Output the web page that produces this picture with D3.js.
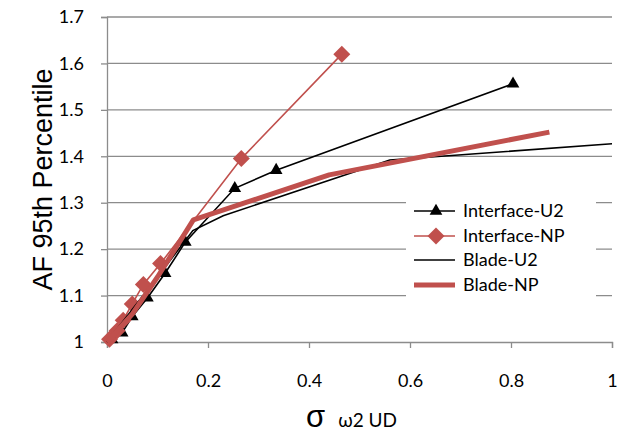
<!DOCTYPE html>
<html>
<head>
<meta charset="utf-8">
<script src="https://cdn.jsdelivr.net/npm/d3@7/dist/d3.min.js"></script>
<style>
  html, body { margin: 0; padding: 0; background: #fff; }
  svg { display: block; }
</style>
</head>
<body>
<svg id="chart" width="632" height="438"></svg>
<script>
// Axis ticks
const xTicks = [0, 0.2, 0.4, 0.6, 0.8, 1];
const yTicks = [1, 1.1, 1.2, 1.3, 1.4, 1.5, 1.6, 1.7];

// Series: [sigma, AF 95th percentile]
const interfaceU2 = [[0.01, 1.005], [0.03, 1.02], [0.05, 1.055], [0.08, 1.095], [0.115, 1.148],
                     [0.155, 1.215], [0.253, 1.331], [0.335, 1.37], [0.804, 1.556]];
const interfaceNP = [[0.005, 1.006], [0.02, 1.024], [0.032, 1.047], [0.05, 1.082], [0.072, 1.124],
                     [0.106, 1.169], [0.266, 1.395], [0.465, 1.62]];
const bladeU2 = [[0, 1.0], [0.1, 1.14], [0.17, 1.24], [0.23, 1.272], [0.56, 1.392], [1.0, 1.427]];
const bladeNP = [[0, 1.0], [0.05, 1.06], [0.1, 1.14], [0.171, 1.263], [0.44, 1.36], [0.876, 1.452]];

const seriesNames = ["Interface-U2", "Interface-NP", "Blade-U2", "Blade-NP"];
const red = "#C0504D";

const svg = d3.select("#chart");
const plot = { left: 107, right: 612, top: 17, bottom: 342 };

const x = d3.scaleLinear().domain([0, 1]).range([plot.left, plot.right]);
const y = d3.scaleLinear().domain([1, 1.7]).range([plot.bottom, plot.top]);

const tickFont = "Lato, 'Open Sans', sans-serif";
const gridColor = "#8c8c8c";

// Horizontal gridlines
svg.append("g")
  .selectAll("line")
  .data(yTicks.filter(d => d > 1))
  .join("line")
  .attr("x1", plot.left).attr("x2", plot.right)
  .attr("y1", d => y(d)).attr("y2", d => y(d))
  .attr("stroke", gridColor).attr("stroke-width", 1.3);

// Y axis
const yAxis = svg.append("g")
  .attr("transform", `translate(${plot.left},0)`)
  .call(d3.axisLeft(y).tickValues(yTicks).tickSize(6).tickPadding(17).tickFormat(d3.format("~g")));
yAxis.select(".domain").attr("stroke", gridColor).attr("stroke-width", 1.3);
yAxis.selectAll(".tick line").attr("stroke", gridColor).attr("stroke-width", 1.3);
yAxis.selectAll("text").attr("font-family", tickFont).attr("font-size", 18).attr("fill", "#000");

// X axis
const xAxis = svg.append("g")
  .attr("transform", `translate(0,${plot.bottom})`)
  .call(d3.axisBottom(x).tickValues(xTicks).tickSize(6).tickPadding(26).tickFormat(d3.format("~g")));
xAxis.select(".domain").attr("stroke", gridColor).attr("stroke-width", 1.3);
xAxis.selectAll(".tick line").attr("stroke", gridColor).attr("stroke-width", 1.3);
xAxis.selectAll("text").attr("font-family", tickFont).attr("font-size", 18).attr("fill", "#000");

// Axis titles
svg.append("text")
  .attr("transform", `translate(52,${(plot.top + plot.bottom) / 2}) rotate(-90)`)
  .attr("text-anchor", "middle")
  .attr("font-family", "'Liberation Sans', Arial, sans-serif")
  .attr("font-size", 27)
  .text("AF 95th Percentile");

const xTitle = svg.append("text")
  .attr("x", 306).attr("y", 427)
  .attr("font-family", "'Liberation Sans', Arial, sans-serif");
xTitle.append("tspan").attr("font-size", 31).text("σ");
xTitle.append("tspan").attr("font-size", 19).attr("font-family", tickFont)
  .attr("dx", 13).text("ω2 UD");

// Series lines
const line = d3.line().x(d => x(d[0])).y(d => y(d[1]));
const g = svg.append("g");

g.append("path").datum(interfaceU2).attr("d", line)
  .attr("fill", "none").attr("stroke", "#000").attr("stroke-width", 1.6);
g.selectAll(".tri").data(interfaceU2).join("path")
  .attr("class", "tri")
  .attr("transform", d => `translate(${x(d[0])},${y(d[1])})`)
  .attr("d", d3.symbol(d3.symbolTriangle, 70)).attr("fill", "#000");

g.append("path").datum(interfaceNP).attr("d", line)
  .attr("fill", "none").attr("stroke", red).attr("stroke-width", 1.6);
g.selectAll(".dia").data(interfaceNP).join("rect")
  .attr("class", "dia")
  .attr("x", -6).attr("y", -6).attr("width", 12).attr("height", 12)
  .attr("transform", d => `translate(${x(d[0])},${y(d[1])}) rotate(45)`)
  .attr("fill", red);

g.append("path").datum(bladeU2).attr("d", line)
  .attr("fill", "none").attr("stroke", "#000").attr("stroke-width", 1.6);

g.append("path").datum(bladeNP).attr("d", line)
  .attr("fill", "none").attr("stroke", red).attr("stroke-width", 5).attr("stroke-linejoin", "round");

// Legend
const legend = svg.append("g");
legend.append("rect")
  .attr("x", 406).attr("y", 194).attr("width", 190).attr("height", 112)
  .attr("fill", "#fff");
const rowY = [211, 236, 260, 285];
seriesNames.forEach((name, i) => {
  const ry = rowY[i];
  const col = (i === 1 || i === 3) ? red : "#000";
  const w = i === 3 ? 5 : 1.6;
  legend.append("line")
    .attr("x1", 414).attr("x2", 455).attr("y1", ry).attr("y2", ry)
    .attr("stroke", col).attr("stroke-width", w);
  if (i === 0) {
    legend.append("path").attr("transform", `translate(436,${ry})`)
      .attr("d", d3.symbol(d3.symbolTriangle, 70)).attr("fill", "#000");
  } else if (i === 1) {
    legend.append("rect").attr("x", -6).attr("y", -6).attr("width", 12).attr("height", 12)
      .attr("transform", `translate(436,${ry}) rotate(45)`).attr("fill", red);
  }
  legend.append("text")
    .attr("x", 463).attr("y", ry).attr("dy", "0.35em")
    .attr("font-family", tickFont).attr("font-size", 18)
    .text(name);
});
</script>
</body>
</html>
